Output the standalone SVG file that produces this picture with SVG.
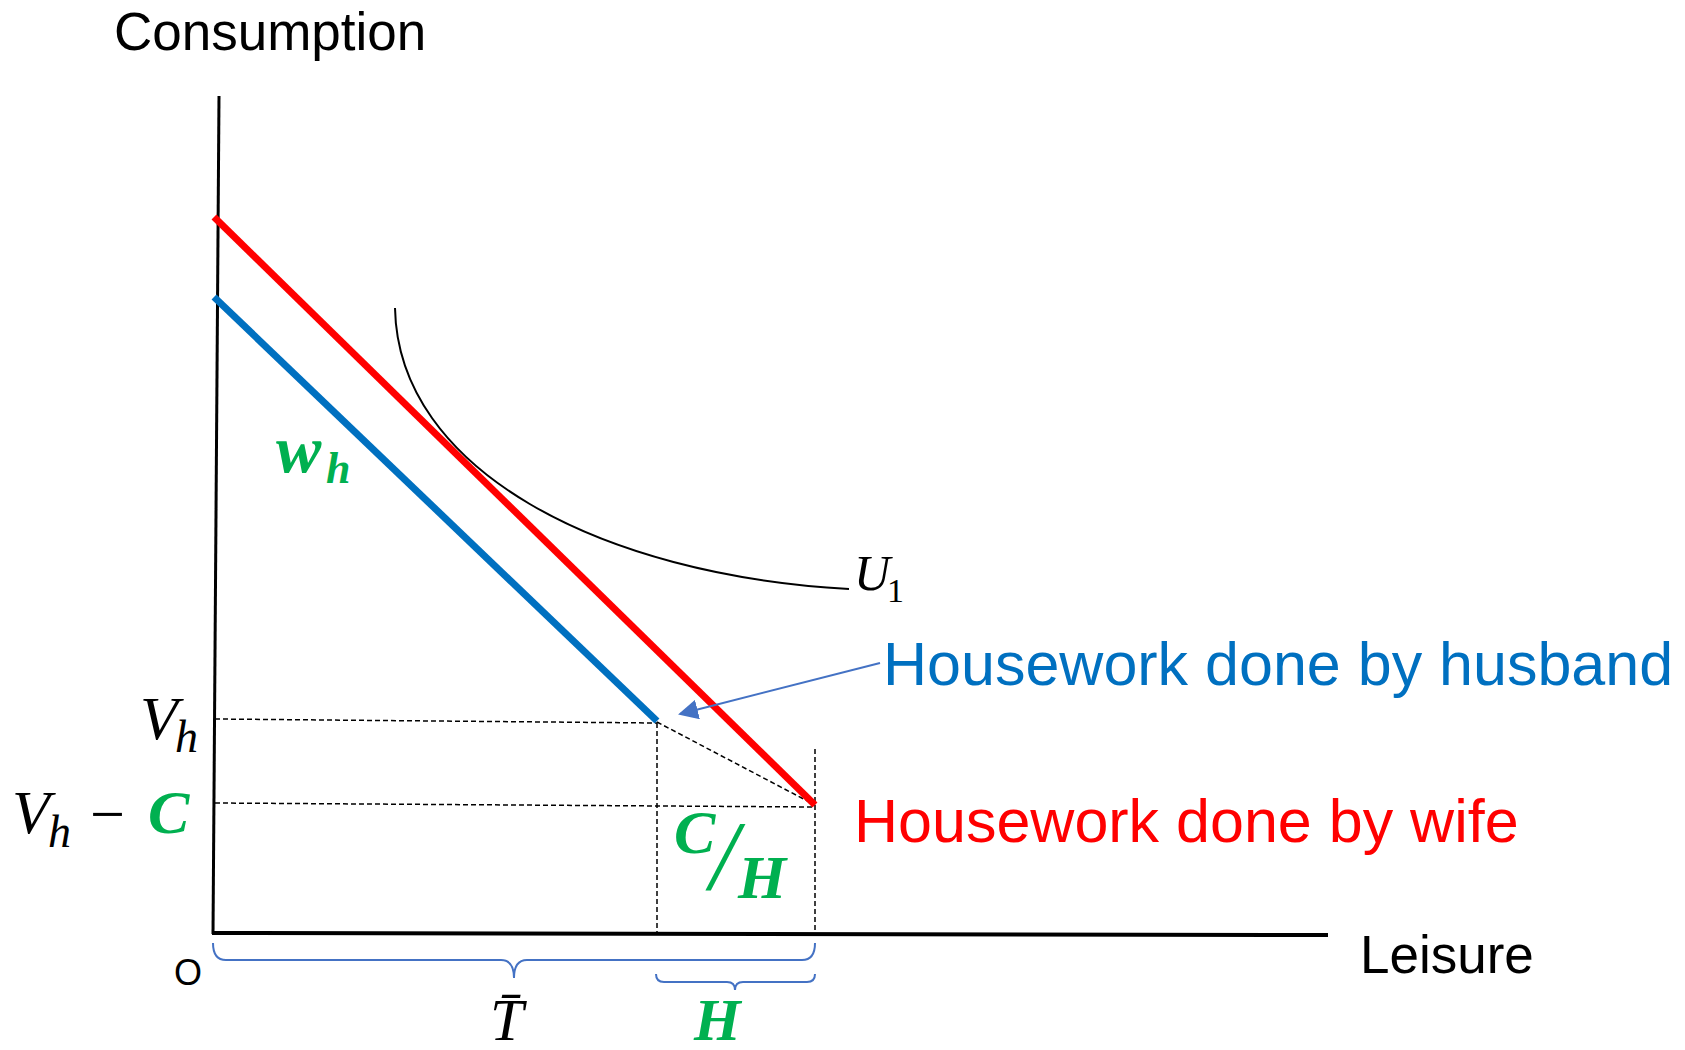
<svg xmlns="http://www.w3.org/2000/svg" width="1685" height="1050" viewBox="0 0 1685 1050">
<defs>
<style>
.sans{font-family:"Liberation Sans",Arial,sans-serif}
.math{font-family:"Liberation Serif","Times New Roman",serif;font-style:italic}
.gb{fill:#00B050;font-weight:bold}
.dash{stroke:#000;stroke-width:1.5;stroke-dasharray:5,3;fill:none}
.brace{stroke:#4472C4;stroke-width:2;fill:none}
</style>
<marker id="ah2" viewBox="0 0 10 10" refX="9" refY="5" markerWidth="20" markerHeight="20" markerUnits="userSpaceOnUse" orient="auto">
<path d="M0,0 L10,5 L0,10 z" fill="#4472C4"/>
</marker>
</defs>
<rect width="1685" height="1050" fill="#fff"/>

<g id="axes">
<line x1="219" y1="96" x2="213" y2="934" stroke="#000" stroke-width="3"/>
<line x1="212" y1="933" x2="1328" y2="935" stroke="#000" stroke-width="4"/>
<text class="sans" x="114" y="50" font-size="53">Consumption</text>
<text class="sans" x="1360" y="973" font-size="53">Leisure</text>
<text class="sans" x="174" y="985" font-size="36">O</text>
</g>

<g id="guides">
<line class="dash" x1="215" y1="719" x2="657" y2="723"/>
<line class="dash" x1="215" y1="803" x2="815" y2="807"/>
<line class="dash" x1="657" y1="722" x2="815" y2="805"/>
<line class="dash" x1="657" y1="723" x2="657" y2="933"/>
<line class="dash" x1="815" y1="749" x2="815" y2="933"/>
</g>

<g id="budget-wife">
<line x1="214" y1="217" x2="815" y2="805" stroke="#FF0000" stroke-width="7"/>
</g>
<g id="budget-husband">
<line x1="214" y1="297" x2="657" y2="721" stroke="#0070C0" stroke-width="7"/>
</g>

<g id="indifference-curve">
<path d="M395,308 C398,470 600,575 849,589" stroke="#000" stroke-width="2" fill="none"/>
<text class="math" x="854" y="590" font-size="50">U</text>
<text font-family="Liberation Serif,serif" x="887" y="602" font-size="34">1</text>
</g>

<g id="labels">
<text class="math gb" x="276" y="472" font-size="68">w</text>
<text class="math gb" x="326" y="483" font-size="44">h</text>

<text class="math" x="140" y="739" font-size="62">V</text>
<text class="math" x="175" y="752" font-size="46">h</text>

<text class="math" x="12" y="833" font-size="62">V</text>
<text class="math" x="48" y="847" font-size="46">h</text>
<text font-family="Liberation Serif,serif" x="90" y="835" font-size="62">−</text>
<text class="math gb" x="148" y="833" font-size="62">C</text>

<text class="math gb" x="674" y="853" font-size="62">C</text>
<text class="math" fill="#00B050" x="710" y="889" font-size="100">/</text>
<text class="math gb" x="738" y="898" font-size="62">H</text>

<text class="math" x="490" y="1040" font-size="60">T̄</text>
<text class="math gb" x="694" y="1040" font-size="60">H</text>
</g>

<g id="braces">
<path class="brace" d="M213,943 Q213,960 226,960 L501,960 Q514,960 514,978 Q514,960 527,960 L802,960 Q815,960 815,943"/>
<path class="brace" d="M656,974 Q656,982 664,982 L727,982 Q735,982 735,990 Q735,982 743,982 L807,982 Q815,982 815,974"/>
</g>

<g id="connectors">
<line x1="880" y1="663" x2="680" y2="714" stroke="#4472C4" stroke-width="2" marker-end="url(#ah2)"/>
</g>

<g id="legend-husband">
<text class="sans" x="883" y="685" font-size="61" fill="#0070C0">Housework done by husband</text>
</g>
<g id="legend-wife">
<text class="sans" x="854" y="842" font-size="61" fill="#FF0000">Housework done by wife</text>
</g>
</svg>
